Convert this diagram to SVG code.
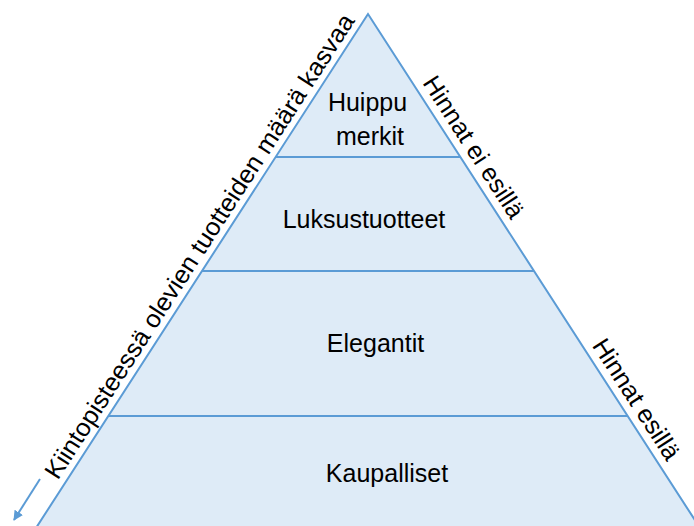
<svg xmlns="http://www.w3.org/2000/svg" width="694" height="526" viewBox="0 0 694 526">
  <defs>
    <style>
      .edge { fill: #DEEBF7; stroke: #5B9BD5; stroke-width: 2; stroke-linejoin: miter; }
      .div { stroke: #5B9BD5; stroke-width: 2; fill: none; }
      .lbl { font-family: "Liberation Sans", Arial, sans-serif; font-size: 25px; fill: #000; text-anchor: middle; }
    </style>
    <marker id="arr" viewBox="0 0 10 10" refX="9" refY="5" markerWidth="5" markerHeight="5" orient="auto" markerUnits="strokeWidth">
      <path d="M0,0 L10,5 L0,10 z" fill="#5B9BD5"/>
    </marker>
  </defs>
  <rect width="694" height="526" fill="#FFFFFF"/>
  <g id="pyramid">
    <polygon class="edge" points="368,14 34.7,530 701.3,530"/>
  </g>
  <g id="connectors">
    <line class="div" x1="275.6" y1="157" x2="460.4" y2="157"/>
    <line class="div" x1="202" y1="271" x2="534" y2="271"/>
    <line class="div" x1="108.3" y1="416" x2="627.7" y2="416"/>
    <line class="div" x1="40" y1="479" x2="14" y2="520" marker-end="url(#arr)"/>
  </g>
  <g id="level-huippu">
    <text class="lbl" x="367.5" y="111">Huippu</text>
    <text class="lbl" x="370" y="145">merkit</text>
  </g>
  <g id="level-luksus">
    <text class="lbl" x="364" y="228">Luksustuotteet</text>
  </g>
  <g id="level-elegantit">
    <text class="lbl" x="375.5" y="352">Elegantit</text>
  </g>
  <g id="level-kaupalliset">
    <text class="lbl" x="387" y="482">Kaupalliset</text>
  </g>
  <g id="label-left">
    <text class="lbl" transform="translate(206.7,250.8) rotate(-57.1)" textLength="548" lengthAdjust="spacingAndGlyphs">Kiintopisteessä olevien tuotteiden määrä kasvaa</text>
  </g>
  <g id="label-right-top">
    <text class="lbl" transform="translate(466.5,151.7) rotate(57.1)" textLength="164" lengthAdjust="spacingAndGlyphs">Hinnat ei esillä</text>
  </g>
  <g id="label-right-bottom">
    <text class="lbl" transform="translate(629.3,403.9) rotate(57.1)" textLength="139" lengthAdjust="spacingAndGlyphs">Hinnat esillä</text>
  </g>
</svg>
